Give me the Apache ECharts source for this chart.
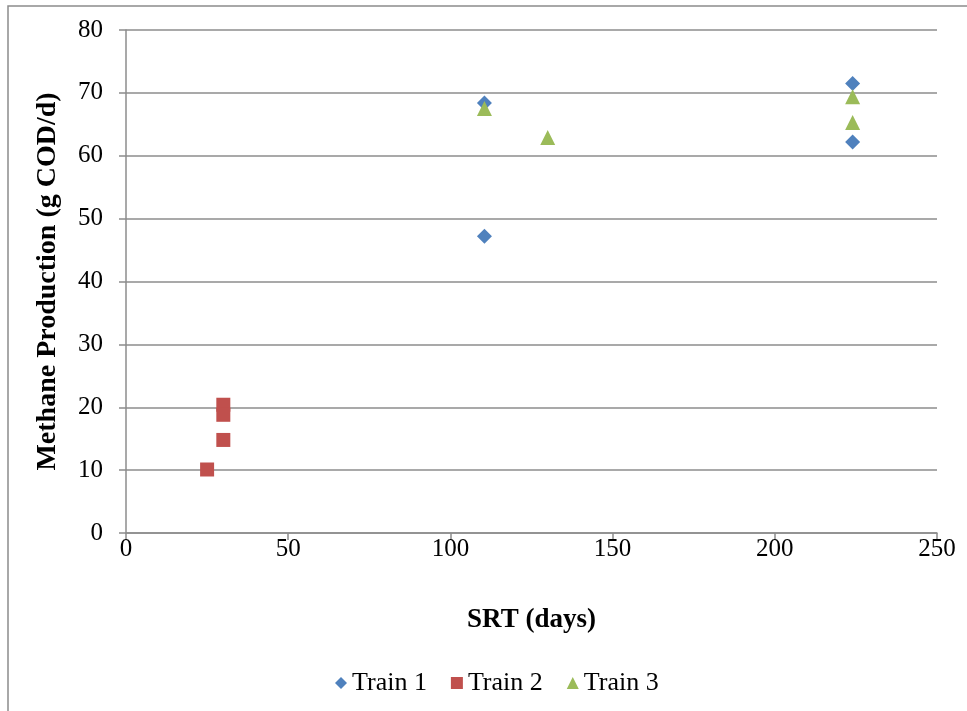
<!DOCTYPE html>
<html>
<head>
<meta charset="utf-8">
<script src="https://cdn.jsdelivr.net/npm/echarts@6/dist/echarts.min.js"></script>
<style>
  html, body { margin: 0; padding: 0; background: #fff; }
  #chart { width: 967px; height: 711px; }
</style>
</head>
<body>
<div id="chart"></div>
<script>
// SRT (days) vs methane production (g COD/d) for three reactor trains
const train1 = [[110.5, 68.4], [110.5, 47.2], [224, 71.5], [224, 62.2]];
const train2 = [[30, 20.4], [30, 18.8], [30, 14.8], [25, 10.1]];
const train3 = [[110.5, 67.5], [130, 62.9], [224, 69.4], [224, 65.3]];
const seriesNames = ['Train 1', 'Train 2', 'Train 3'];
const seriesColors = ['#4f81bd', '#c0504d', '#9bbb59'];

const font = '"Liberation Serif", "Times New Roman", serif';
const chart = echarts.init(document.getElementById('chart'), null, { renderer: 'canvas' });

chart.setOption({
  backgroundColor: '#fff',
  animation: false,
  textStyle: { fontFamily: font },
  graphic: [{
    type: 'rect',
    shape: { x: 8, y: 6, width: 980, height: 730 },
    style: { fill: 'none', stroke: '#8c8c8c', lineWidth: 1.5 },
    silent: true
  }],
  grid: { left: 126, right: 30, top: 30, bottom: 178 },
  xAxis: {
    type: 'value', min: 0, max: 250, interval: 50,
    name: 'SRT (days)', nameLocation: 'middle', nameGap: 74,
    nameTextStyle: { fontFamily: font, fontSize: 27, fontWeight: 'bold', color: '#000' },
    axisLine: { show: true, lineStyle: { color: '#8c8c8c', width: 1.5 } },
    axisTick: { show: true, length: 7, lineStyle: { color: '#8c8c8c', width: 1.5 } },
    axisLabel: { fontFamily: font, fontSize: 25, color: '#000', margin: 4 },
    splitLine: { show: false }
  },
  yAxis: {
    type: 'value', min: 0, max: 80, interval: 10,
    name: 'Methane Production (g COD/d)', nameLocation: 'middle', nameGap: 64,
    nameTextStyle: { fontFamily: font, fontSize: 28, fontWeight: 'bold', color: '#000' },
    axisLine: { show: true, lineStyle: { color: '#8c8c8c', width: 1.5 } },
    axisTick: { show: true, length: 7, lineStyle: { color: '#8c8c8c', width: 1.5 } },
    axisLabel: { fontFamily: font, fontSize: 25, color: '#000', margin: 23 },
    splitLine: { show: true, lineStyle: { color: '#8c8c8c', width: 1.5 } }
  },
  legend: {
    bottom: 10, left: 330, itemGap: 24, itemWidth: 12, itemHeight: 12,
    textStyle: { fontFamily: font, fontSize: 26, color: '#000' },
    data: [
      { name: seriesNames[0], icon: 'diamond' },
      { name: seriesNames[1], icon: 'rect' },
      { name: seriesNames[2], icon: 'triangle' }
    ]
  },
  series: [
    { name: seriesNames[0], type: 'scatter', data: train1, symbol: 'diamond', symbolSize: 15, itemStyle: { color: seriesColors[0], opacity: 1 } },
    { name: seriesNames[1], type: 'scatter', data: train2, symbol: 'rect', symbolSize: 14, itemStyle: { color: seriesColors[1], opacity: 1 } },
    { name: seriesNames[2], type: 'scatter', data: train3, symbol: 'triangle', symbolSize: 15, itemStyle: { color: seriesColors[2], opacity: 1 } }
  ]
});
</script>
</body>
</html>
